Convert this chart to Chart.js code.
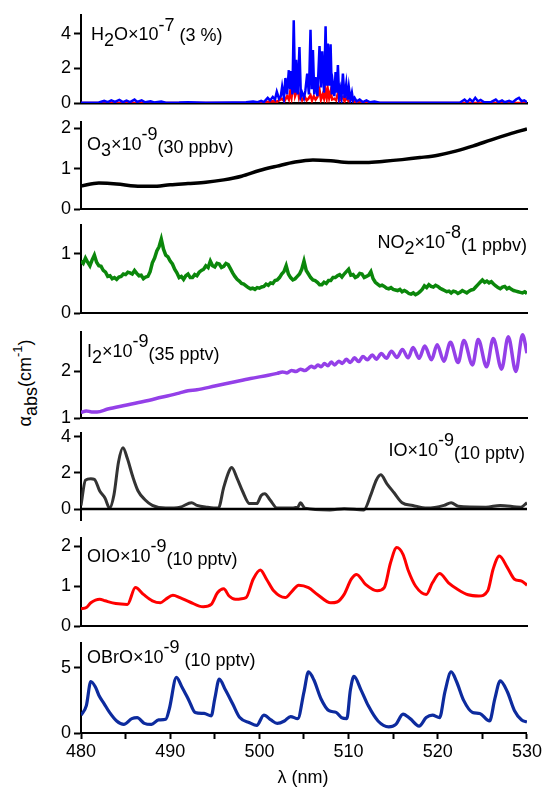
<!DOCTYPE html>
<html>
<head>
<meta charset="utf-8">
<script src="https://cdn.jsdelivr.net/npm/chart.js@4.4.1/dist/chart.umd.min.js"></script>
<style>
  html, body { margin: 0; padding: 0; background: #fff; }
  #wrap { position: relative; width: 544px; height: 795px; overflow: hidden; }
  #wrap canvas { position: absolute; left: 0; }
  #ytitle { position: absolute; left: 25px; top: 383px; transform: translate(-50%, -50%) rotate(-90deg);
    white-space: nowrap; font: 18px Arial, "Liberation Sans", sans-serif; color: #000; line-height: 20px; }
  #ytitle sub { font-size: 18px; vertical-align: -6px; line-height: 0; }
  #ytitle sup { font-size: 13px; vertical-align: 9px; line-height: 0; }
</style>
</head>
<body>
<div id="wrap">
  <div id="ytitle">&alpha;<sub>abs</sub>(cm<sup>-1</sup>)</div>
</div>
<script>
// wavelength ticks on the shared x axis (nm)
const xTickValues = [480, 485, 490, 495, 500, 505, 510, 515, 520, 525, 530];

// H2O (x1e-7), blue and red traces
const h2oBlueWl = [480, 482.0, 482.6, 483.0, 483.4, 483.8, 484.3, 484.7, 485.1, 485.5, 486.0, 486.3, 486.8, 487.2, 487.8, 488.2, 489.0, 489.5, 491, 492, 494, 497, 498.5, 499.3, 499.8, 500.2, 500.5, 500.93, 501.2, 501.5, 501.75, 501.95, 502.2, 502.4, 502.55, 502.75, 502.92, 503.1, 503.3, 503.45, 503.56, 503.7, 503.85, 504.0, 504.12, 504.3, 504.49, 504.65, 504.79, 505.0, 505.15, 505.36, 505.55, 505.73, 505.87, 506.0, 506.15, 506.29, 506.5, 506.74, 506.9, 507.04, 507.25, 507.42, 507.55, 507.67, 507.82, 507.98, 508.12, 508.24, 508.4, 508.54, 508.67, 508.8, 508.93, 509.06, 509.2, 509.36, 509.55, 509.74, 509.9, 510.03, 510.2, 510.37, 510.5, 510.67, 510.9, 511.24, 511.6, 512.0, 512.4, 512.9, 513.5, 520, 522.5, 523.0, 523.3, 523.6, 523.9, 524.2, 524.5, 524.8, 525.2, 526.0, 526.5, 526.8, 527.2, 527.5, 528.0, 528.4, 528.8, 529.1, 529.4, 529.7, 530];
const h2oBlueVal = [0.02, 0.03, 0.12, 0.05, 0.15, 0.06, 0.18, 0.05, 0.14, 0.05, 0.2, 0.06, 0.15, 0.04, 0.1, 0.03, 0.08, 0.02, 0.03, 0.05, 0.02, 0.03, 0.05, 0.08, 0.05, 0.12, 0.05, 0.3, 0.15, 0.35, 0.2, 0.65, 0.25, 0.4, 0.95, 0.3, 1.45, 0.5, 1.9, 0.8, 1.85, 0.5, 4.8, 0.6, 2.5, 0.5, 3.25, 0.4, 0.6, 0.3, 0.7, 1.7, 0.5, 4.25, 0.8, 3.07, 0.5, 1.5, 0.4, 3.3, 0.9, 3.0, 0.6, 4.45, 1.0, 3.45, 1.0, 3.4, 0.5, 1.1, 0.4, 1.8, 0.6, 2.2, 0.4, 0.8, 0.3, 1.7, 0.3, 1.1, 0.2, 0.9, 0.2, 0.6, 0.15, 0.3, 0.1, 0.2, 0.05, 0.15, 0.04, 0.08, 0.02, 0.02, 0.03, 0.2, 0.05, 0.22, 0.08, 0.3, 0.1, 0.18, 0.04, 0.06, 0.2, 0.05, 0.15, 0.04, 0.12, 0.04, 0.22, 0.3, 0.1, 0.15, 0.05];
const h2oRedWl = [480, 499.5, 500.5, 501.5, 502.0, 502.5, 502.8, 503.1, 503.3, 503.45, 503.6, 503.85, 504.0, 504.3, 504.45, 504.6, 504.8, 505.1, 505.3, 505.5, 505.73, 505.9, 506.1, 506.3, 506.5, 506.74, 506.9, 507.1, 507.25, 507.42, 507.55, 507.67, 507.82, 507.98, 508.15, 508.4, 508.6, 508.8, 509.0, 509.36, 509.55, 509.74, 510.0, 510.4, 510.7, 511.2, 511.8, 512.5, 530];
const h2oRedVal = [0.0, 0.0, 0.05, 0.1, 0.08, 0.25, 0.1, 0.4, 0.2, 0.65, 0.3, 1.33, 0.4, 0.85, 0.3, 0.5, 0.15, 0.35, 0.15, 0.25, 0.45, 0.15, 0.4, 0.2, 0.35, 0.75, 0.2, 0.5, 0.25, 0.75, 0.3, 0.8, 0.3, 0.65, 0.2, 0.25, 0.15, 0.55, 0.15, 0.35, 0.1, 0.3, 0.1, 0.2, 0.05, 0.1, 0.02, 0.0, 0.0];

// O3 (x1e-9)
const o3Wl = [480, 482, 484, 486, 488, 490, 492, 494, 496, 498, 500, 502, 504, 506, 508, 510, 512, 514, 516, 518, 520, 522, 524, 526, 528, 530];
const o3Val = [0.57, 0.64, 0.62, 0.57, 0.56, 0.60, 0.63, 0.66, 0.72, 0.81, 0.95, 1.06, 1.16, 1.21, 1.19, 1.15, 1.15, 1.18, 1.22, 1.27, 1.33, 1.43, 1.56, 1.71, 1.85, 1.98];

// NO2 (x1e-8), 0.25 nm spacing
const no2Wl = [
  480, 480.25, 480.5, 480.75, 481, 481.25, 481.5, 481.75, 482, 482.25, 482.5, 482.75, 483, 483.25, 483.5, 483.75, 484, 484.25, 484.5, 484.75,
  485, 485.25, 485.5, 485.75, 486, 486.25, 486.5, 486.75, 487, 487.25, 487.5, 487.75, 488, 488.25, 488.5, 488.75, 489, 489.25, 489.5, 489.75,
  490, 490.25, 490.5, 490.75, 491, 491.25, 491.5, 491.75, 492, 492.25, 492.5, 492.75, 493, 493.25, 493.5, 493.75, 494, 494.25, 494.5, 494.75,
  495, 495.25, 495.5, 495.75, 496, 496.25, 496.5, 496.75, 497, 497.25, 497.5, 497.75, 498, 498.25, 498.5, 498.75, 499, 499.25, 499.5, 499.75,
  500, 500.25, 500.5, 500.75, 501, 501.25, 501.5, 501.75, 502, 502.25, 502.5, 502.75, 503, 503.25, 503.5, 503.75, 504, 504.25, 504.5, 504.75,
  505, 505.25, 505.5, 505.75, 506, 506.25, 506.5, 506.75, 507, 507.25, 507.5, 507.75, 508, 508.25, 508.5, 508.75, 509, 509.25, 509.5, 509.75,
  510, 510.25, 510.5, 510.75, 511, 511.25, 511.5, 511.75, 512, 512.25, 512.5, 512.75, 513, 513.25, 513.5, 513.75, 514, 514.25, 514.5, 514.75,
  515, 515.25, 515.5, 515.75, 516, 516.25, 516.5, 516.75, 517, 517.25, 517.5, 517.75, 518, 518.25, 518.5, 518.75, 519, 519.25, 519.5, 519.75,
  520, 520.25, 520.5, 520.75, 521, 521.25, 521.5, 521.75, 522, 522.25, 522.5, 522.75, 523, 523.25, 523.5, 523.75, 524, 524.25, 524.5, 524.75,
  525, 525.25, 525.5, 525.75, 526, 526.25, 526.5, 526.75, 527, 527.25, 527.5, 527.75, 528, 528.25, 528.5, 528.75, 529, 529.25, 529.5, 529.75,
  530];
const no2Val = [
  0.88, 0.84, 0.93, 0.86, 0.80, 0.90, 0.98, 0.86, 0.80, 0.79, 0.72, 0.69, 0.62, 0.63, 0.58, 0.60, 0.57, 0.61, 0.62, 0.66,
  0.65, 0.69, 0.68, 0.66, 0.72, 0.67, 0.63, 0.64, 0.58, 0.61, 0.62, 0.70, 0.85, 0.93, 1.05, 1.12, 1.25, 1.08, 0.98, 0.95,
  0.88, 0.83, 0.74, 0.68, 0.60, 0.62, 0.57, 0.63, 0.66, 0.60, 0.60, 0.65, 0.63, 0.69, 0.72, 0.74, 0.80, 0.77, 0.88, 0.80,
  0.78, 0.84, 0.83, 0.77, 0.79, 0.84, 0.82, 0.75, 0.68, 0.62, 0.57, 0.54, 0.50, 0.49, 0.46, 0.43, 0.41, 0.42, 0.40, 0.43,
  0.42, 0.44, 0.45, 0.49, 0.47, 0.51, 0.50, 0.55, 0.56, 0.60, 0.66, 0.70, 0.80, 0.66, 0.60, 0.56, 0.58, 0.62, 0.66, 0.74,
  0.88, 0.72, 0.66, 0.60, 0.56, 0.55, 0.52, 0.48, 0.48, 0.52, 0.50, 0.55, 0.55, 0.60, 0.60, 0.63, 0.65, 0.61, 0.66, 0.70,
  0.74, 0.64, 0.65, 0.60, 0.62, 0.67, 0.66, 0.60, 0.62, 0.64, 0.70, 0.58, 0.52, 0.49, 0.46, 0.47, 0.45, 0.42, 0.41, 0.43,
  0.40, 0.39, 0.38, 0.40, 0.36, 0.38, 0.36, 0.33, 0.32, 0.34, 0.31, 0.33, 0.36, 0.40, 0.46, 0.43, 0.48, 0.45, 0.44, 0.47,
  0.45, 0.42, 0.40, 0.38, 0.36, 0.37, 0.34, 0.37, 0.36, 0.33, 0.35, 0.38, 0.36, 0.34, 0.37, 0.39, 0.40, 0.44, 0.48, 0.52,
  0.56, 0.52, 0.54, 0.51, 0.53, 0.49, 0.46, 0.43, 0.41, 0.44, 0.45, 0.41, 0.43, 0.40, 0.38, 0.37, 0.36, 0.35, 0.34, 0.36,
  0.33];

// I2 (x1e-9)
const i2Wl = [480, 480.6, 481.2, 481.8, 483, 485, 487, 489, 491, 492, 493, 495, 497, 499, 501, 502, 502.6, 503.1, 503.6, 504.1, 504.6, 505.1, 505.5, 505.81, 506.18, 506.55, 506.93, 507.30, 507.68, 508.06, 508.43, 508.91, 509.29, 509.74, 510.19, 510.67, 511.12, 511.61, 512.10, 512.66, 513.11, 513.67, 514.24, 514.80, 515.43, 516.03, 516.67, 517.23, 517.90, 518.54, 519.29, 519.93, 520.67, 521.42, 522.28, 522.92, 523.89, 524.53, 525.47, 526.22, 527.15, 527.90, 528.75, 529.5, 530];
const i2Val = [1.12, 1.15, 1.13, 1.13, 1.19, 1.27, 1.35, 1.44, 1.53, 1.58, 1.60, 1.68, 1.76, 1.84, 1.91, 1.95, 1.98, 1.96, 2.01, 1.99, 2.04, 2.01, 2.06, 2.10, 2.07, 2.13, 2.09, 2.16, 2.11, 2.19, 2.13, 2.21, 2.16, 2.25, 2.18, 2.28, 2.20, 2.31, 2.24, 2.34, 2.25, 2.37, 2.27, 2.42, 2.29, 2.46, 2.28, 2.50, 2.27, 2.53, 2.24, 2.56, 2.21, 2.61, 2.18, 2.65, 2.13, 2.67, 2.09, 2.69, 2.04, 2.73, 1.99, 2.77, 2.38];

// IO (x1e-9)
const ioWl = [480, 480.5, 481.1, 481.5, 482.1, 482.7, 483.2, 483.7, 484.2, 484.7, 485.2, 485.8, 486.4, 487.2, 488, 489.5, 491.1, 492.4, 493, 494.2, 495.4, 496, 496.6, 496.9, 497.5, 498.1, 498.9, 499.7, 500.2, 500.6, 501.2, 502, 503.1, 504.3, 504.6, 505.1, 507.9, 509.5, 511.7, 512.5, 513.1, 513.6, 514.3, 515.1, 516, 517.2, 518.8, 520.7, 521.5, 522.3, 525.4, 527, 529.3, 530];
const ioVal = [0.2, 1.6, 1.68, 1.65, 1.0, 0.6, 0.05, 0.8, 2.6, 3.4, 2.8, 1.8, 1.0, 0.5, 0.2, 0.05, 0.1, 0.35, 0.2, 0.1, 0.05, 1.2, 2.1, 2.3, 1.7, 1.0, 0.3, 0.3, 0.75, 0.85, 0.5, 0.05, 0.05, 0.1, 0.35, 0.05, -0.05, 0.02, -0.05, 0.8, 1.6, 1.9, 1.4, 0.9, 0.35, 0.2, 0.05, 0.2, 0.35, 0.15, 0.1, 0.2, 0.1, 0.35];
const zeroWl = [480, 530];
const zeroVal = [0, 0];

// OIO (x1e-9)
const oioWl = [480, 480.6, 481.1, 482.1, 482.7, 483.9, 485.2, 486.1, 487, 488, 488.9, 489.5, 490.3, 491.1, 492.2, 493.7, 494.6, 495.3, 496.0, 496.6, 497.3, 498.5, 499.3, 500.1, 500.8, 501.6, 502.9, 503.7, 504.4, 505.5, 506.5, 508, 508.7, 509.5, 510.3, 510.9, 511.9, 513.2, 514, 514.7, 515.4, 516.1, 516.7, 517.5, 518.7, 519.4, 520.2, 521.2, 522.2, 523.4, 524.6, 525.6, 526.2, 526.9, 527.8, 528.6, 529.4, 530];
const oioVal = [0.43, 0.46, 0.58, 0.67, 0.63, 0.56, 0.54, 0.96, 0.79, 0.63, 0.58, 0.67, 0.77, 0.71, 0.60, 0.48, 0.54, 0.83, 0.93, 0.75, 0.67, 0.71, 1.17, 1.40, 1.17, 0.88, 0.71, 0.88, 1.02, 0.96, 0.79, 0.58, 0.60, 0.79, 1.17, 1.29, 1.04, 0.88, 0.96, 1.58, 1.96, 1.79, 1.38, 1.00, 0.79, 1.08, 1.31, 1.08, 0.92, 0.78, 0.75, 0.88, 1.42, 1.75, 1.46, 1.17, 1.12, 1.02];

// OBrO (x1e-9)
const obroWl = [480, 480.6, 481.1, 481.6, 482, 482.6, 483.2, 484, 484.8, 485.7, 486.3, 487.1, 487.9, 488.7, 489.5, 489.9, 490.7, 491.3, 492.1, 492.8, 493.8, 494.6, 495, 495.5, 496.2, 497, 497.8, 498.9, 499.7, 500.5, 501.3, 502, 502.8, 503.5, 504.3, 505, 505.5, 506.1, 506.9, 507.8, 508.6, 509.2, 509.8, 510.2, 510.6, 511.4, 512.2, 513.3, 514.5, 515.3, 516.1, 516.9, 517.9, 518.7, 519.4, 520.2, 520.8, 521.5, 522.1, 522.9, 523.9, 524.7, 525.8, 526.4, 527, 527.8, 528.6, 529.4, 530];
const obroVal = [1.37, 2.1, 3.95, 3.55, 2.9, 2.24, 1.58, 0.92, 0.66, 1.1, 1.18, 0.74, 0.66, 1.0, 1.05, 1.84, 4.26, 3.55, 2.5, 1.58, 1.5, 1.32, 2.63, 4.13, 3.29, 2.24, 1.18, 0.79, 0.58, 1.37, 1.0, 0.74, 0.92, 1.26, 1.1, 3.16, 4.68, 4.08, 2.63, 1.71, 1.58, 1.18, 1.1, 3.29, 4.34, 3.29, 2.1, 0.92, 0.47, 0.66, 1.45, 1.1, 0.53, 1.18, 1.37, 1.18, 3.16, 4.68, 3.95, 2.5, 1.58, 1.5, 0.92, 2.63, 4.0, 3.16, 1.71, 1.0, 0.84];

const FONT = '18px Arial, "Liberation Sans", sans-serif';
const pts = (wl, val) => wl.map((w, i) => ({ x: w, y: val[i] }));

function line(wl, val, color, width, smooth) {
  return {
    data: pts(wl, val),
    borderColor: color,
    borderWidth: width,
    pointRadius: 0,
    fill: false,
    tension: 0,
    cubicInterpolationMode: smooth ? 'monotone' : 'default',
  };
}

// draws "text" pieces with sub / superscript offsets
function drawRich(ctx, x, y, parts, align) {
  ctx.save();
  ctx.font = FONT;
  ctx.fillStyle = '#000';
  ctx.textBaseline = 'alphabetic';
  ctx.textAlign = 'left';
  let total = 0;
  parts.forEach((p) => { total += ctx.measureText(p[0]).width; });
  let cx = x;
  if (align === 'right') cx = x - total;
  if (align === 'center') cx = x - total / 2;
  parts.forEach((p) => {
    ctx.fillText(p[0], cx, y + p[1]);
    cx += ctx.measureText(p[0]).width;
  });
  ctx.restore();
}

const labelPlugin = {
  id: 'panelLabels',
  afterDraw(chart) {
    const o = chart.options.plugins.panelLabels;
    if (!o) return;
    o.items.forEach((it) => drawRich(chart.ctx, it.x, it.y - o.top, it.parts, it.align));
  },
};

const panels = [
  { top: 1, height: 116, min: 0, max: 5.1, ticks: [0, 2, 4],
    sets: [line(h2oBlueWl, h2oBlueVal, '#0000ff', 2.5, false), line(h2oRedWl, h2oRedVal, '#ff0000', 2.5, false)],
    xOnTop: true,
    labels: [{ x: 91, y: 40, parts: [['H', 0], ['2', 6], ['O×10', 0], ['-7', -9], [' (3 %)', 1]] }] },
  { top: 108, height: 115, min: 0, max: 2.15, ticks: [0, 1, 2],
    sets: [line(o3Wl, o3Val, '#000000', 3.5, true)],
    labels: [{ x: 87, y: 150, parts: [['O', 0], ['3', 6], ['×10', 0], ['-9', -10], ['(30 ppbv)', 3]] }] },
  { top: 211, height: 116, min: 0, max: 1.49, ticks: [0, 1],
    sets: [line(no2Wl, no2Val, '#0b870b', 3.5, false)],
    labels: [{ x: 527, y: 248, align: 'right', parts: [['NO', 0], ['2', 6], ['×10', 0], ['-8', -10], ['(1 ppbv)', 3]] }] },
  { top: 318, height: 114, min: 1, max: 2.83, ticks: [1, 2],
    sets: [line(i2Wl, i2Val, '#9440e8', 3.5, true)],
    labels: [{ x: 87, y: 357, parts: [['I', 0], ['2', 6], ['×10', 0], ['-9', -10], ['(35 pptv)', 3]] }] },
  { top: 419, height: 115, min: -0.61, max: 4.22, ticks: [0, 2, 4], noXBorder: true,
    sets: [line(zeroWl, zeroVal, '#000000', 2.5, false), line(ioWl, ioVal, '#333333', 3, true)],
    labels: [{ x: 525, y: 456, align: 'right', parts: [['IO×10', 0], ['-9', -10], ['(10 pptv)', 3]] }] },
  { top: 524, height: 116, min: 0, max: 2.2, ticks: [0, 1, 2],
    sets: [line(oioWl, oioVal, '#ff0000', 3, true)],
    labels: [{ x: 87, y: 562, parts: [['OIO×10', 0], ['-9', -10], ['(10 pptv)', 3]] }] },
  { top: 629, height: 166, min: 0, max: 6.9, ticks: [0, 5], bottom: true,
    sets: [line(obroWl, obroVal, '#0d2b9e', 3.2, true)],
    labels: [{ x: 87, y: 663, parts: [['OBrO×10', 0], ['-9', -10], [' (10 pptv)', 3]] },
      { x: 303, y: 783, align: 'center', parts: [['λ (nm)', 0]] }] },
];

const wrap = document.getElementById('wrap');
panels.forEach((p) => {
  const canvas = document.createElement('canvas');
  canvas.width = 544;
  canvas.height = p.height;
  canvas.style.top = p.top + 'px';
  wrap.appendChild(canvas);

  const padTop = 14;
  // bottom panel: plot area ends at 733 px, x axis strip is 40 px
  const padBottom = p.bottom ? (p.top + p.height) - 733 - 40 : 14;

  new Chart(canvas, {
    type: 'line',
    data: { datasets: p.sets },
    plugins: [labelPlugin],
    options: {
      responsive: false,
      animation: false,
      layout: { padding: { left: 0, right: 17, top: padTop, bottom: padBottom } },
      plugins: {
        legend: { display: false },
        tooltip: { enabled: false },
        panelLabels: { top: p.top, items: p.labels },
      },
      scales: {
        x: {
          type: 'linear',
          min: 480,
          max: 530,
          z: p.xOnTop ? 1 : 0,
          afterBuildTicks: (s) => { s.ticks = xTickValues.map((v) => ({ value: v })); },
          afterFit: (s) => { s.height = p.bottom ? 40 : 0; },
          ticks: {
            display: !!p.bottom,
            autoSkip: false,
            maxRotation: 0,
            padding: 2,
            color: '#000',
            font: { family: 'Arial, "Liberation Sans", sans-serif', size: 18 },
            callback: (v) => (v % 10 === 0 ? String(v) : ''),
          },
          grid: { display: !!p.bottom, drawOnChartArea: false, tickLength: 6, tickColor: '#000', tickWidth: 2 },
          border: { display: !p.noXBorder, color: '#000', width: p.xOnTop ? 2.5 : 2 },
        },
        y: {
          type: 'linear',
          min: p.min,
          max: p.max,
          afterBuildTicks: (s) => { s.ticks = p.ticks.map((v) => ({ value: v })); },
          afterFit: (s) => { s.width = 81; },
          ticks: {
            padding: 3,
            color: '#000',
            font: { family: 'Arial, "Liberation Sans", sans-serif', size: 18 },
          },
          grid: { drawOnChartArea: false, tickLength: 7, tickColor: '#000', tickWidth: 2 },
          border: { color: '#000', width: 2 },
        },
      },
    },
  });
});
</script>
</body>
</html>
